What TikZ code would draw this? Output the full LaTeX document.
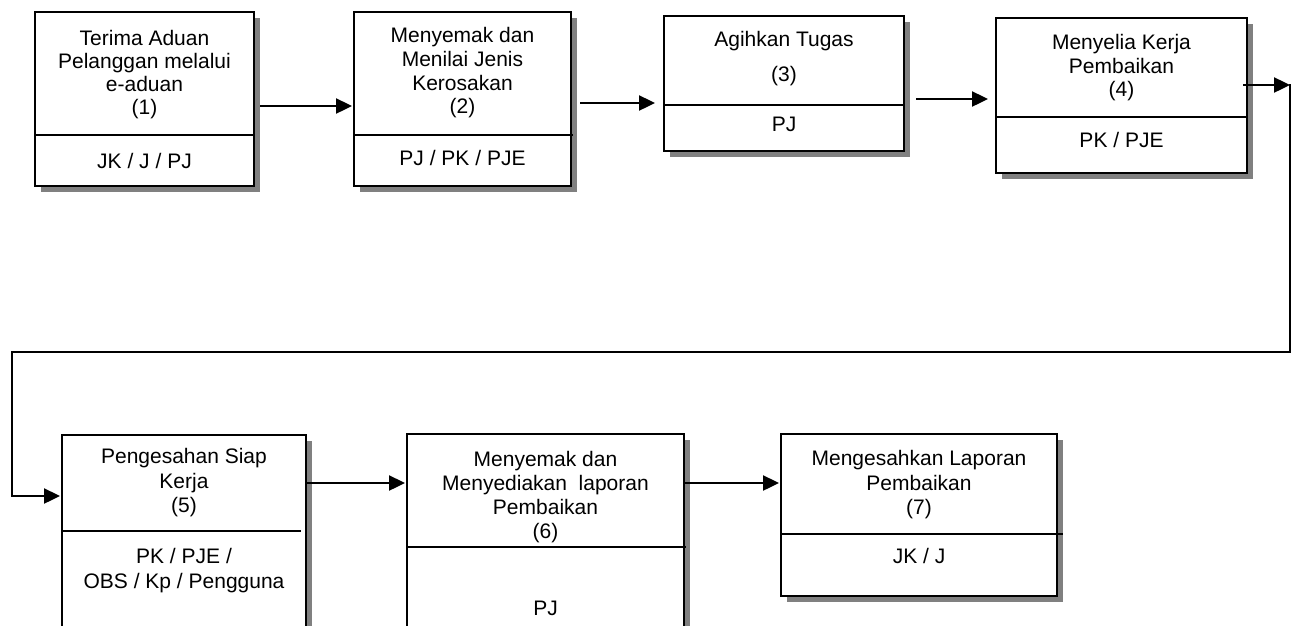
\documentclass[tikz,border=0pt]{standalone}
\usepackage{fontspec}
\setmainfont{Liberation Sans}
\usetikzlibrary{arrows.meta,shadows}
\definecolor{shadowgray}{HTML}{808080}
\tikzset{
  box/.style={draw=black, line width=2pt, fill=white, inner sep=0pt, outer sep=0pt,
    general shadow={fill=shadowgray, shadow xshift=6pt, shadow yshift=-6pt}},
  divline/.style={line width=1.5pt},
  txt/.style={anchor=base, inner sep=0pt, font=\fontsize{21}{24}\selectfont},
  arr/.style={line width=2.4pt, -{Triangle[length=16pt,width=15pt]}},
  link/.style={line width=1.6pt},
}
\begin{document}
\begin{tikzpicture}[x=1pt,y=-1pt]
\useasboundingbox (0,0) rectangle (1291,625);
\clip (0,0) rectangle (1291,625);
% boxes
\node[box, minimum width=219pt, minimum height=174pt] (b1) at (144.5,99) {};
\node[box, minimum width=217pt, minimum height=174pt] (b2) at (462.5,99) {};
\node[box, minimum width=240pt, minimum height=135pt] (b3) at (784,83.5) {};
\node[box, minimum width=251pt, minimum height=155pt] (b4) at (1121.5,95.5) {};
\node[box, minimum width=244pt, minimum height=245pt] (b5) at (184,557.5) {};
\node[box, minimum width=277pt, minimum height=246pt] (b6) at (545.5,557) {};
\node[box, minimum width=276pt, minimum height=162pt] (b7) at (919,515) {};
% dividers
\draw[divline] (b1.west |- 0,135) -- (b1.east |- 0,135);
\draw[divline] (b2.west |- 0,135) -- ([xshift=2pt]b2.east |- 0,135);
\draw[divline] (b3.west |- 0,105) -- (b3.east |- 0,105);
\draw[divline] (b4.west |- 0,117) -- (b4.east |- 0,117);
\draw[divline] (b5.west |- 0,531) -- ([xshift=-5pt]b5.east |- 0,531);
\draw[divline] (b6.west |- 0,547) -- ([xshift=2pt]b6.east |- 0,547);
\draw[divline] (b7.west |- 0,534) -- ([xshift=6pt]b7.east |- 0,534);
% texts box 1
\node[txt] (t1a) at (144.5,45) {Terima Aduan};
\node[txt] (t1b) at (144.5,68) {Pelanggan melalui};
\node[txt] (t1c) at (144.5,91) {e-aduan};
\node[txt] (t1d) at (144.5,114) {(1)};
\node[txt] (t1e) at (144.5,168) {JK / J / PJ};
% box 2
\node[txt] (t2a) at (462.5,42) {Menyemak dan};
\node[txt] (t2b) at (462.5,66) {Menilai Jenis};
\node[txt] (t2c) at (462.5,90) {Kerosakan};
\node[txt] (t2d) at (462.5,113) {(2)};
\node[txt] (t2e) at (462.5,165) {PJ / PK / PJE};
% box 3
\node[txt] (t3a) at (784,46) {Agihkan Tugas};
\node[txt] (t3b) at (784,81) {(3)};
\node[txt] (t3c) at (784,131) {PJ};
% box 4
\node[txt] (t4a) at (1121.5,49) {Menyelia Kerja};
\node[txt] (t4b) at (1121.5,73) {Pembaikan};
\node[txt] (t4c) at (1121.5,96) {(4)};
\node[txt] (t4d) at (1121.5,147) {PK / PJE};
% box 5
\node[txt] (t5a) at (184,463) {Pengesahan Siap};
\node[txt] (t5b) at (184,488) {Kerja};
\node[txt] (t5c) at (184,512) {(5)};
\node[txt] (t5d) at (184,563) {PK / PJE /};
\node[txt] (t5e) at (184,588) {OBS / Kp / Pengguna};
% box 6
\node[txt] (t6a) at (545.5,466) {Menyemak dan};
\node[txt] (t6b) at (545.5,490) {Menyediakan\ \ laporan};
\node[txt] (t6c) at (545.5,514) {Pembaikan};
\node[txt] (t6d) at (545.5,538) {(6)};
\node[txt] (t6e) at (545.5,615) {PJ};
% box 7
\node[txt] (t7a) at (919,465) {Mengesahkan Laporan};
\node[txt] (t7b) at (919,490) {Pembaikan};
\node[txt] (t7c) at (919,514) {(7)};
\node[txt] (t7d) at (919,563) {JK / J};
% connectors
\draw[arr, shorten <=6pt, shorten >=2pt] (b1.east |- 0,106) -- (b2.west |- 0,106);
\draw[arr, shorten <=9pt, shorten >=9pt] (b2.east |- 0,103) -- (b3.west |- 0,103);
\draw[arr, shorten <=12pt, shorten >=8pt] (b3.east |- 0,99) -- (b4.west |- 0,99);
\draw[arr, shorten >=2pt] (b5.east |- 0,483) -- (b6.west |- 0,483);
\draw[arr, shorten >=2pt] (b6.east |- 0,483) -- (b7.west |- 0,483);
% long connector 4 -> 5
\coordinate (c1) at (1290,85);
\coordinate (c2) at (1290,352);
\coordinate (c3) at (12,352);
\coordinate (c4) at (12,496);
\draw[arr, shorten <=-4pt] (b4.east |- c1) -- (c1);
\draw[link, line cap=rect] (c1) -- (c2) -- (c3) -- (c4);
\draw[arr, shorten >=2pt] (c4) -- (b5.west |- c4);
\end{tikzpicture}
\end{document}
